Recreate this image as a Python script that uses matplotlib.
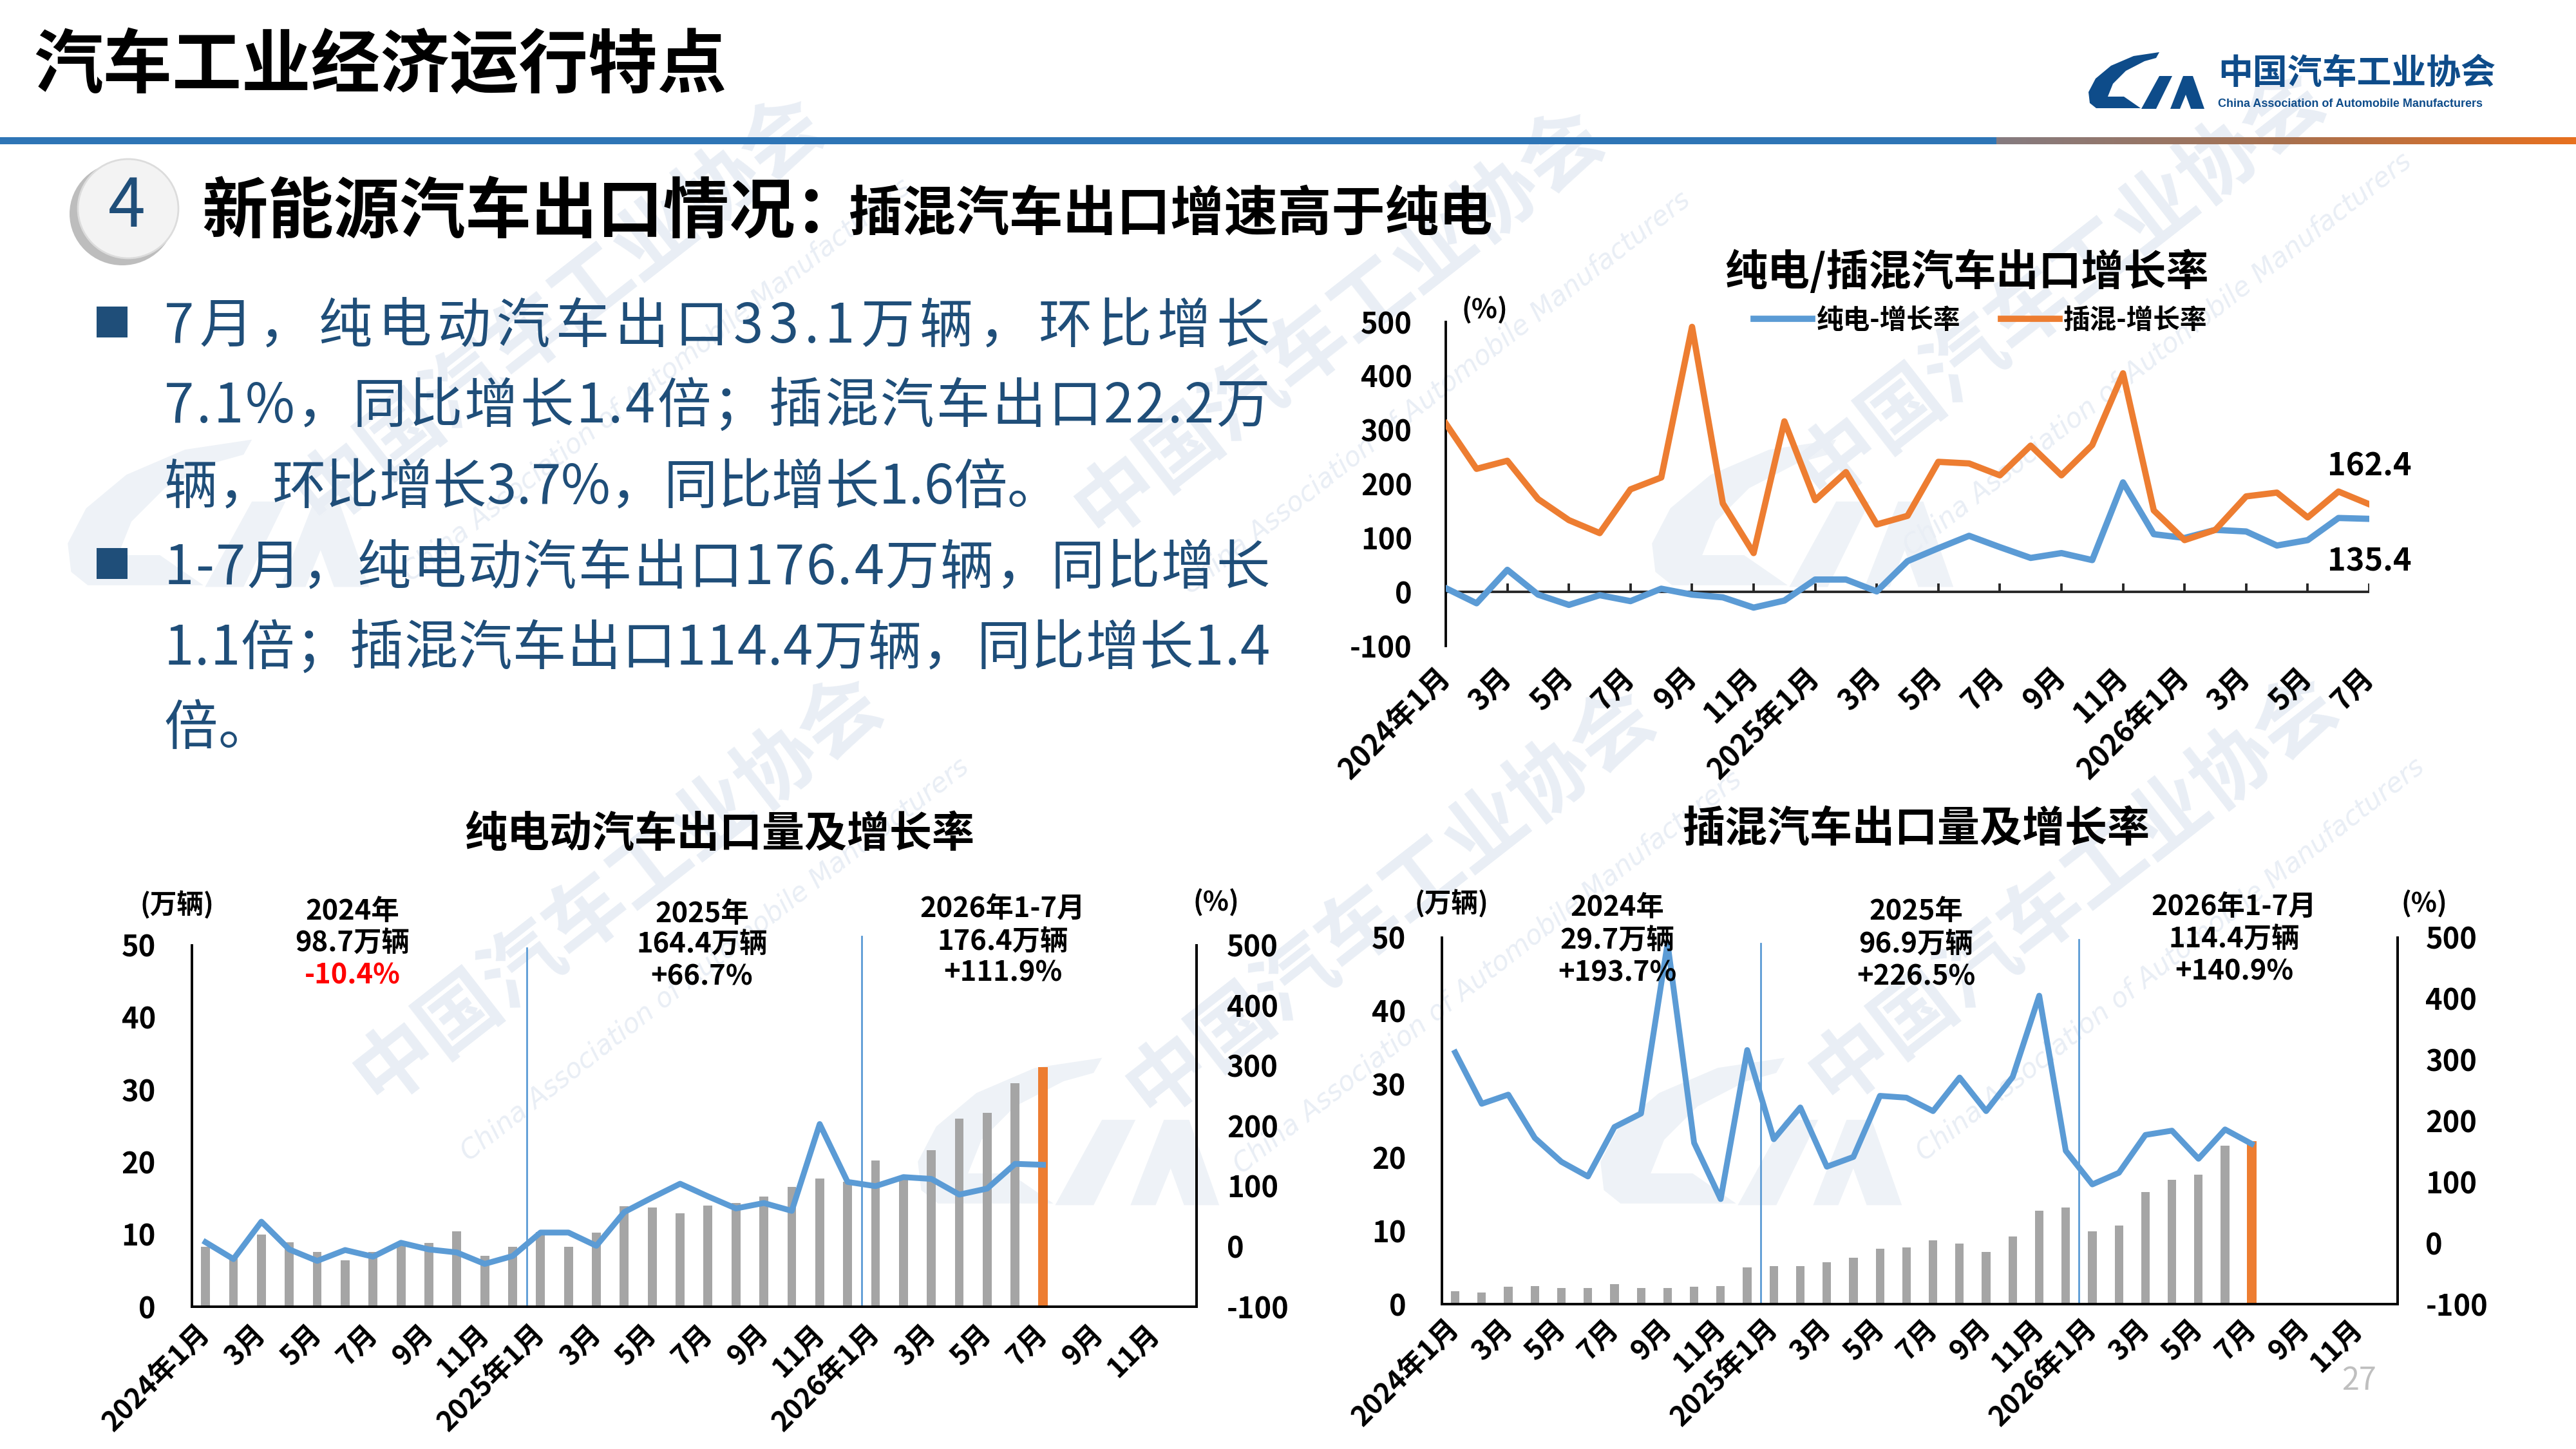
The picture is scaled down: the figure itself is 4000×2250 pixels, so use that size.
import numpy as np
import matplotlib.pyplot as plt
from matplotlib.patches import Polygon, Ellipse, Rectangle
from matplotlib.colors import LinearSegmentedColormap
from matplotlib.font_manager import FontProperties

plt.rcParams['font.family'] = ['Noto Sans CJK SC', 'DejaVu Sans']
plt.rcParams['axes.unicode_minus'] = False

W, H = 4000, 2250


def fx(x):
    return x / W


def fy(y):
    return 1 - y / H


# ---- data ----
tick_labels = ['2024年1月', '3月', '5月', '7月', '9月', '11月',
               '2025年1月', '3月', '5月', '7月', '9月', '11月',
               '2026年1月', '3月', '5月', '7月', '9月', '11月']

# monthly growth rate (%), 2024-01 .. 2026-07
ev_growth = [7, -21, 41, -5, -24, -6, -17, 6, -5, -10, -29, -16,
             23, 23, 1, 57, 81, 104, 83, 63, 72, 59, 203, 107,
             100, 115, 112, 86, 96, 137, 135.4]
phev_growth = [312, 228, 243, 172, 133, 109, 190, 212, 491, 164, 72, 316,
               170, 222, 125, 141, 241, 238, 216, 271, 216, 272, 405, 151,
               96, 115, 177, 184, 138, 186, 162.4]

# monthly export volume (万辆)
ev_volume = [8.3, 6.8, 10.0, 8.9, 7.6, 6.4, 7.6, 8.6, 8.8, 10.4, 7.0, 8.3,
             10.3, 8.3, 10.2, 13.9, 13.7, 12.9, 14.0, 14.3, 15.2, 16.6, 17.7, 17.3,
             20.2, 17.8, 21.6, 26.0, 26.8, 30.9, 33.1]
phev_volume = [1.8, 1.6, 2.4, 2.5, 2.2, 2.2, 2.7, 2.2, 2.2, 2.4, 2.5, 5.0,
               5.2, 5.2, 5.7, 6.3, 7.6, 7.7, 8.7, 8.3, 7.1, 9.2, 12.7, 13.2,
               9.9, 10.7, 15.3, 17.0, 17.7, 21.6, 22.2]

period_names = ['2024年', '2025年', '2026年1-7月']
ev_totals = ['98.7万辆', '164.4万辆', '176.4万辆']
ev_yoy = ['-10.4%', '+66.7%', '+111.9%']
phev_totals = ['29.7万辆', '96.9万辆', '114.4万辆']
phev_yoy = ['+193.7%', '+226.5%', '+140.9%']

bullet_lines = [
    '7月，纯电动汽车出口33.1万辆，环比增长',
    '7.1%，同比增长1.4倍；插混汽车出口22.2万',
    '辆，环比增长3.7%，同比增长1.6倍。',
    '1-7月，纯电动汽车出口176.4万辆，同比增长',
    '1.1倍；插混汽车出口114.4万辆，同比增长1.4',
    '倍。',
]
justified = [True, True, False, True, True, False]

BLUE = '#5B9BD5'
ORANGE = '#ED7D31'
GRAY = '#A5A5A5'
NAVY = '#1F4E79'
LOGO = '#0E4C8A'
WM = '#E9EEF5'

fig = plt.figure(figsize=(16, 9), dpi=250)
renderer = fig.canvas.get_renderer()

# ---- logo shapes (local pixel coords) ----
C_SHAPE = [(112, 1), (72, 7), (37, 22), (13, 42), (2, 63), (4, 80), (14, 88),
           (83, 88), (57, 70), (32, 70), (40, 50), (60, 30), (89, 15), (107, 10)]
M_LEFT = [(84, 89), (112, 38), (132, 38), (107, 89)]
M_RIGHT = [(129, 89), (149, 38), (164, 38), (182, 89), (161, 89), (153, 67), (144, 89)]


def draw_logo(x0, y0, s, color, z=5):
    for shape in (C_SHAPE, M_LEFT, M_RIGHT):
        pts = [(fx(x0 + s * a), fy(y0 + s * b)) for a, b in shape]
        fig.add_artist(Polygon(pts, closed=True, transform=fig.transFigure,
                               facecolor=color, edgecolor='none', zorder=z))


# ---- watermarks ----
for cx, cy in [(870, 480), (2080, 500), (3200, 440), (960, 1380), (2160, 1400), (3220, 1380)]:
    fig.text(fx(cx), fy(cy), '中国汽车工业协会', rotation=38, fontsize=36,
             fontweight='bold', color=WM, ha='center', va='center', zorder=-5)
    fig.text(fx(cx + 150), fy(cy + 110), 'China Association of Automobile Manufacturers',
             rotation=38, fontsize=12, style='italic', color=WM,
             family='DejaVu Sans', ha='center', va='center', zorder=-5)
for lx, ly in [(100, 680), (2560, 680), (1420, 1640), (2480, 1640)]:
    draw_logo(lx, ly, 2.6, '#EEF2F7', z=-6)

# ---- header ----
fig.text(fx(52), fy(104), '汽车工业经济运行特点', fontsize=31, fontweight='bold',
         ha='left', va='center')
fig.add_artist(Rectangle((0, fy(224)), fx(3100), 11 / H, transform=fig.transFigure,
                         facecolor='#2E75B6', edgecolor='none'))
gax = fig.add_axes([fx(3100), fy(224), fx(900), 11 / H])
grad = LinearSegmentedColormap.from_list('g', ['#857B80', '#A8714F', '#E8701F'])
gax.imshow(np.linspace(0, 1, 256).reshape(1, -1), cmap=grad, aspect='auto')
gax.axis('off')

draw_logo(3241, 80, 1.0, LOGO)
fig.text(fx(3444), fy(114), '中国汽车工业协会', fontsize=15.5, fontweight='bold',
         color=LOGO, ha='left', va='center')
fig.text(fx(3444), fy(162), 'China Association of Automobile Manufacturers',
         fontsize=5.2, fontweight='bold', color=LOGO, family='Liberation Sans',
         ha='left', va='center')

# ---- section heading ----
fig.add_artist(Ellipse((fx(190), fy(332)), 164 / W, 160 / H, transform=fig.transFigure,
                       facecolor='#BDBDBD', edgecolor='none'))
fig.add_artist(Ellipse((fx(199), fy(324)), 156 / W, 154 / H, transform=fig.transFigure,
                       facecolor='#F3F3F3', edgecolor='#DCDCDC', lw=0.8))
fig.text(fx(197), fy(322), '4', fontsize=30, color=NAVY, ha='center', va='center',
         fontweight='light')
fig.text(fx(313), fy(330), '新能源汽车出口情况：', fontsize=29.5, fontweight='bold',
         ha='left', va='center')
fig.text(fx(1317), fy(334), '插混汽车出口增速高于纯电', fontsize=24, fontweight='bold',
         ha='left', va='center')


# ---- bullet text, justified like the slide ----
def text_line(text, x_left, y_center, size, color, target=None):
    prop = FontProperties(family=['Noto Sans CJK SC', 'DejaVu Sans'], size=size)

    def width(s):
        return renderer.get_text_width_height_descent(s, prop, ismath=False)[0]

    ref = '口'
    base = width(ref + ref)
    wref = width(ref)
    adv = [width(ref + c + ref) - base for c in text]
    lsb = [a - (width(c + ref) - wref) for a, c in zip(adv, text)]
    total = width(text)
    gap = 0.0 if target is None else (target - total) / (len(text) - 1)
    em = size * 250 / 72
    y_base = y_center + 0.38 * em
    pen = 0.0
    for i, c in enumerate(text):
        xi = x_left + pen + lsb[i] - lsb[0] + i * gap
        fig.text(fx(xi), fy(y_base), c, fontproperties=prop, color=color,
                 ha='left', va='baseline')
        pen += adv[i]


line_y = [500, 624, 750, 875, 1000, 1124]
for txt, yy, just in zip(bullet_lines, line_y, justified):
    text_line(txt, 255, yy, 24, NAVY, target=1717 if just else None)
for yy in (line_y[0], line_y[3]):
    fig.add_artist(Rectangle((fx(150), fy(yy + 24)), 48 / W, 48 / H,
                             transform=fig.transFigure, facecolor=NAVY, edgecolor='none'))

# ---- top right: growth rate chart ----
x31 = np.arange(len(ev_growth))
ax1 = fig.add_axes([fx(2245), fy(1003), (3679 - 2245) / W, (1003 - 500) / H])
ax1.set_facecolor('none')
ax1.plot(x31, ev_growth, color=BLUE, lw=2.8, zorder=3, label='纯电-增长率')
ax1.plot(x31, phev_growth, color=ORANGE, lw=2.8, zorder=4, label='插混-增长率')
ax1.set_xlim(0, 30)
ax1.set_ylim(-100, 500)
ax1.axhline(0, color='#262626', lw=1.1, zorder=2)
ax1.vlines(np.arange(2, 31, 2), 0, 16, color='#262626', lw=1.1, zorder=2)
for s in ('top', 'right', 'bottom'):
    ax1.spines[s].set_visible(False)
ax1.spines['left'].set_linewidth(1.1)
ax1.set_yticks(range(-100, 501, 100))
ax1.tick_params(axis='y', length=0, pad=15, labelsize=13)
ax1.set_xticks(np.arange(0, 31, 2), tick_labels[:16], rotation=45, ha='right',
               va='center', rotation_mode='anchor', fontweight='bold', fontsize=13)
ax1.tick_params(axis='x', length=0, pad=12)
for lab in ax1.get_yticklabels():
    lab.set_fontweight('bold')
ax1.annotate('162.4', (30, phev_growth[-1]), xytext=(0, 17), textcoords='offset points',
             ha='center', va='center', fontsize=14, fontweight='bold')
ax1.annotate('135.4', (30, ev_growth[-1]), xytext=(0, -19), textcoords='offset points',
             ha='center', va='center', fontsize=14, fontweight='bold')
ax1.legend(loc='center', bbox_to_anchor=(0.579, 1.004), ncol=2, frameon=False,
           handlelength=2.2, handletextpad=0.15, columnspacing=1.5,
           prop={'weight': 'bold', 'size': 12})
fig.text(fx(2305), fy(482), '(%)', fontsize=12, fontweight='bold', ha='center', va='center')
fig.text(fx(3054), fy(423), '纯电/插混汽车出口增长率', fontsize=19, fontweight='bold',
         ha='center', va='center')


# ---- bottom: volume + growth charts ----
def volume_chart(rect, volume, growth, lpad, rpad, sep_top, xlpad):
    ax = fig.add_axes(rect)
    ax.set_facecolor('none')
    x = np.arange(len(volume))
    ax.bar(x[:-1], volume[:-1], width=0.32, color=GRAY, zorder=2)
    ax.bar(x[-1], volume[-1], width=0.36, color=ORANGE, zorder=2)
    ax.set_xlim(-0.5, 35.5)
    ax.set_ylim(0, 50)
    for xs, top in zip([11.5, 23.5], sep_top):
        ax.plot([xs, xs], [0, top], color=BLUE, lw=0.8, clip_on=False, zorder=1)
    ax.spines['top'].set_visible(False)
    for s in ('left', 'bottom', 'right'):
        ax.spines[s].set_linewidth(1.1)
    ax.set_yticks(range(0, 51, 10))
    ax.tick_params(axis='y', length=0, pad=lpad, labelsize=13)
    for lab in ax.get_yticklabels():
        lab.set_fontweight('bold')
    ax.set_xticks(np.arange(0, 36, 2), tick_labels, rotation=45, ha='right',
                  va='center', rotation_mode='anchor', fontweight='bold', fontsize=12.5)
    ax.tick_params(axis='x', length=0, pad=xlpad)

    ax2 = ax.twinx()
    ax2.plot(x, growth, color=BLUE, lw=2.6, zorder=3)
    ax2.set_ylim(-100, 500)
    ax2.spines['top'].set_visible(False)
    ax2.spines['right'].set_linewidth(1.1)
    ax2.set_yticks(range(-100, 501, 100))
    ax2.tick_params(axis='y', length=0, pad=rpad, labelsize=13)
    for lab in ax2.get_yticklabels():
        lab.set_fontweight('bold')
    return ax


def summary_block(xs, ys, totals, yoys, red_first=False):
    for i, (cx, yy) in enumerate(zip(xs, ys)):
        fig.text(fx(cx), fy(yy[0]), period_names[i], fontsize=12.5, fontweight='bold',
                 ha='center', va='center')
        fig.text(fx(cx), fy(yy[1]), totals[i], fontsize=12.5, fontweight='bold',
                 ha='center', va='center')
        col = '#FF0000' if (red_first and i == 0) else 'black'
        fig.text(fx(cx), fy(yy[2]), yoys[i], fontsize=12.5, fontweight='bold',
                 color=col, ha='center', va='center')


volume_chart([fx(297.5), fy(2029), (1858 - 297.5) / W, (2029 - 1467.5) / H],
             ev_volume, ev_growth, 16, 13.5, [49.6, 51.2], 10)
fig.text(fx(1117), fy(1295), '纯电动汽车出口量及增长率', fontsize=19, fontweight='bold',
         ha='center', va='center')
fig.text(fx(275), fy(1406), '(万辆)', fontsize=12, fontweight='bold', ha='center', va='center')
fig.text(fx(1888), fy(1402), '(%)', fontsize=12, fontweight='bold', ha='center', va='center')
summary_block([547, 1090, 1557], [[1415, 1465, 1514], [1419, 1467, 1516], [1412, 1463, 1511]],
              ev_totals, ev_yoy, red_first=True)

volume_chart([fx(2239), fy(2025), (3723 - 2239) / W, (2025 - 1456) / H],
             phev_volume, phev_growth, 16, 12.5, [49.2, 49.7], 9)
fig.text(fx(2975), fy(1287), '插混汽车出口量及增长率', fontsize=19, fontweight='bold',
         ha='center', va='center')
fig.text(fx(2254), fy(1404), '(万辆)', fontsize=12, fontweight='bold', ha='center', va='center')
fig.text(fx(3764), fy(1404), '(%)', fontsize=12, fontweight='bold', ha='center', va='center')
summary_block([2511, 2975, 3469], [[1409, 1461, 1510], [1415, 1467, 1516], [1409, 1459, 1508]],
              phev_totals, phev_yoy)

fig.text(fx(3663), fy(2144), '27', fontsize=14, color='#BFBFBF', ha='center', va='center')

fig.savefig('out.png', dpi=250)
